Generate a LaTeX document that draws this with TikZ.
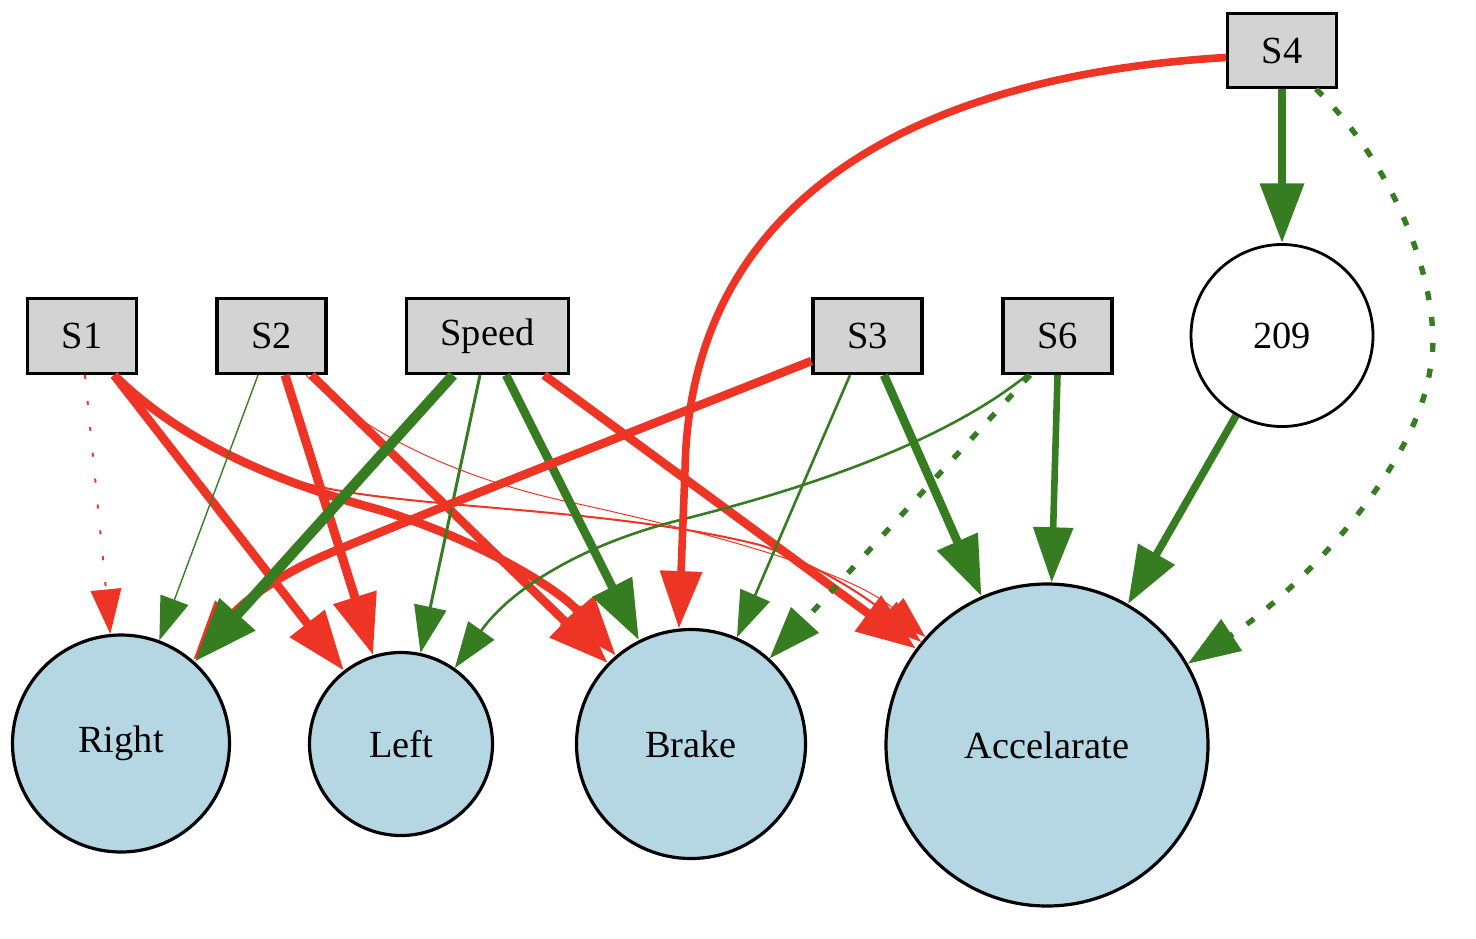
\documentclass[tikz,border=0pt]{standalone}
\usepackage{fontspec}
\setmainfont{Liberation Serif}
\usetikzlibrary{arrows.meta,calc}
\definecolor{ered}{RGB}{238,52,36}
\definecolor{egreen}{RGB}{54,125,34}
\definecolor{boxgray}{RGB}{211,211,211}
\definecolor{nfill}{RGB}{180,215,227}
\begin{document}
\begin{tikzpicture}[x=0.5pt,y=-0.5pt,
  every node/.style={font=\fontsize{19.2}{23}\selectfont},
  box/.style={draw, line width=1.6pt, fill=boxgray, minimum height=37.5pt, minimum width=54.5pt, inner sep=0pt},
  neuron/.style={circle, draw, line width=1.6pt, fill=nfill, inner sep=0pt},
  hidden/.style={circle, draw, line width=1.4pt, fill=white, inner sep=0pt, minimum size=91pt},
  wire/.style={-{Triangle[length=20pt 2.3,width=13.5pt 1.8]}},
  gedge/.style={wire, color=egreen},
  redge/.style={wire, color=ered},
  dotr/.style={dash pattern=on 2pt off 11pt},
  dotg/.style={dash pattern=on 4.5pt off 8.5pt},
]
\useasboundingbox (0,0) rectangle (1476,938);

\node[box] (S1) at (82,336) {S1};
\node[box] (S2) at (271.5,336) {S2};
\node[box, minimum width=81pt] (Speed) at (487.5,336) {Speed};
\node[box] (S3) at (867.5,336) {S3};
\node[box] (S6) at (1057.5,336) {S6};
\node[box, minimum height=37pt] (S4) at (1282,50.5) {S4};
\node[hidden] (n209) at (1282,335.5) {209};
\node[neuron, minimum size=108.5pt] (Right) at (121,743.5) {Right};
\node[neuron, minimum size=91.5pt] (Left) at (401,744) {Left};
\node[neuron, minimum size=114.5pt] (Brake) at (691,744) {Brake};
\node[neuron, minimum size=161pt] (Acc) at (1047,745) {Accelarate};

% S1
\draw[redge, line width=1pt, dotr] ($(S1.south)+(3,0)$) -- (Right);
\draw[redge, line width=4.3pt] ($(S1.south)+(32,0)$) -- (Left);
\draw[redge, line width=4.3pt] ($(S1.south)+(32,0)$) .. controls (170,430) and (250,475) .. (380,510) .. controls (480,540) and (560,590) .. (Brake);
\draw[redge, line width=1pt] ($(S1.south)+(33,0)$) .. controls (160,420) and (210,450) .. (300,482) .. controls (400,510) and (600,505) .. (760,545) .. controls (820,565) and (870,600) .. (Acc);
% S2
\draw[gedge, line width=0.7pt] ($(S2.south)+(-13.5,0)$) -- (Right);
\draw[redge, line width=4.5pt] ($(S2.south)+(13.5,0)$) -- (Left);
\draw[redge, line width=4.3pt] ($(S2.south)+(40,0)$) -- (Brake);
\draw[redge, line width=0.5pt] ($(S2.south)+(34.5,0)$) .. controls (360,430) and (450,475) .. (560,500) .. controls (700,530) and (850,570) .. (Acc);
% Speed
\draw[gedge, line width=1.5pt] ($(Speed.south)+(-7.5,0)$) -- (Left);
\draw[gedge, line width=4.3pt] ($(Speed.south)+(18.5,0)$) -- (Brake);
\draw[redge, line width=4.3pt] ($(Speed.south)+(56.5,0)$) -- (Acc);
% S3
\draw[redge, line width=4.3pt] ($(S3.west)+(0,25)$) .. controls (650,425) and (420,515) .. (330,553) .. controls (280,574) and (245,600) .. (Right);
\draw[gedge, line width=5.2pt] ($(Speed.south)+(-34.5,0)$) -- (Right);
\draw[gedge, line width=1.3pt] ($(S3.south)+(-17.5,0)$) -- (Brake);
\draw[gedge, line width=4.3pt] ($(S3.south)+(16.5,0)$) -- (Acc);
% S6
\draw[gedge, line width=1.3pt] ($(S6.south)+(-30.5,0)$) .. controls (940,445) and (800,490) .. (680,520) .. controls (580,545) and (510,590) .. (Left);
\draw[gedge, line width=2.7pt, dotg] ($(S6.south)+(-27.5,0)$) -- (Brake);
\draw[gedge, line width=3.3pt] (S6.south) -- (Acc);
% S4
\draw[redge, line width=3.8pt] ($(S4.west)+(0,7)$) .. controls (930,75) and (690,190) .. (685,470) -- (Brake.96);
\draw[gedge, line width=4.3pt] (S4) -- (n209);
\draw[gedge, line width=2.7pt, dotg] ($(S4.south)+(34,0)$) .. controls (1400,170) and (1445,300) .. (1430,370) .. controls (1415,470) and (1300,590) .. (Acc.30);
% 209
\draw[gedge, line width=3.8pt] (n209) -- (Acc);
\end{tikzpicture}
\end{document}
